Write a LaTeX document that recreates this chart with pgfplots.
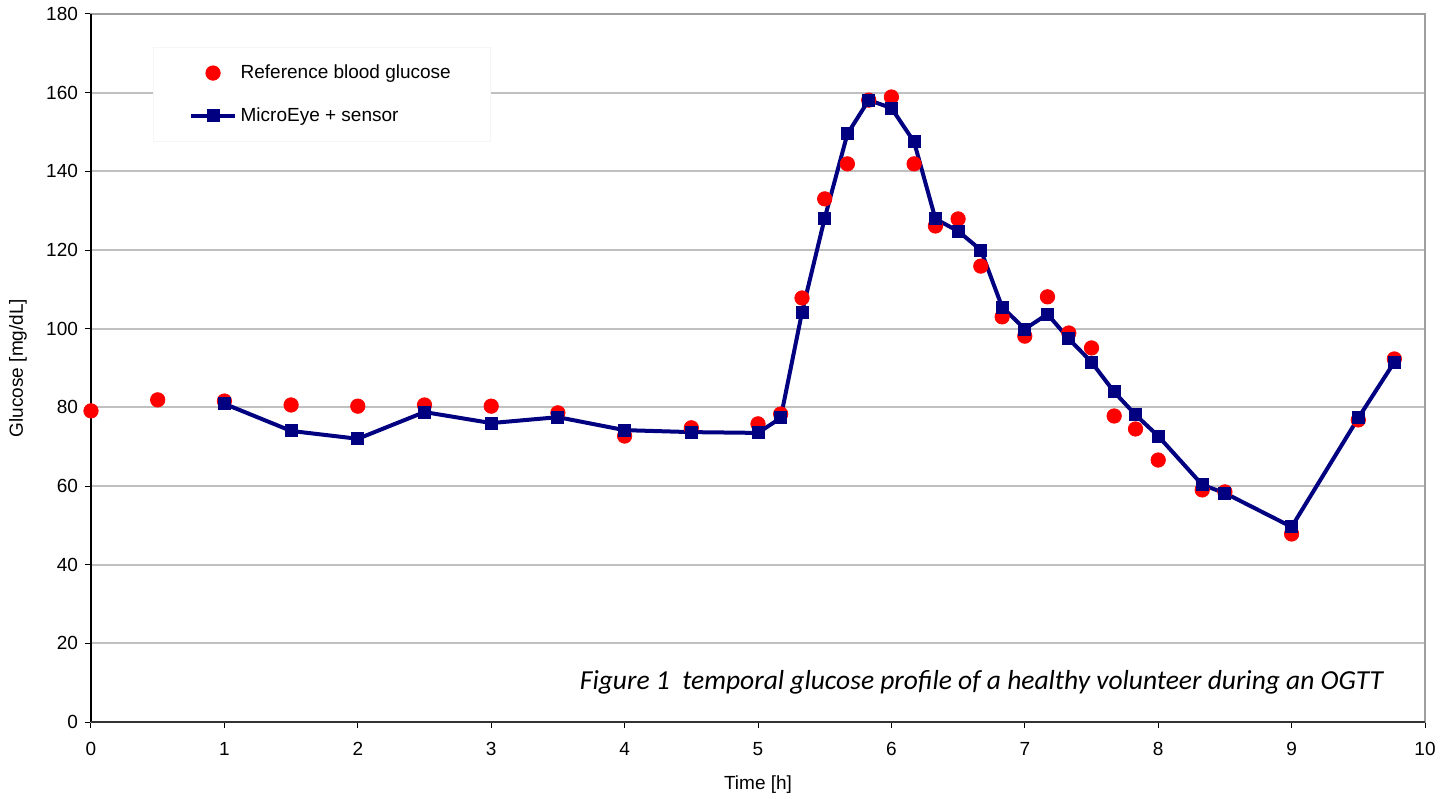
\documentclass[border=0pt]{standalone}
\usepackage{pgfplots}
\pgfplotsset{compat=1.18}
\usepackage{fontspec}
\setmainfont{Liberation Sans}
\newfontfamily\capfont{Carlito}
\definecolor{refred}{HTML}{FF0000}
\definecolor{navyline}{HTML}{000080}
\definecolor{gridgray}{HTML}{C0C0C0}

\begin{document}
\begin{tikzpicture}
  \begin{axis}[
    scale only axis,
    width=667pt,
    height=354pt,
    xmin=0, xmax=10,
    ymin=0, ymax=180,
    xtick={0,1,...,10},
    ytick={0,20,...,180},
    ymajorgrids,
    major grid style={gridgray,line width=0.9pt},
    axis line style={gray!75,line width=0.9pt},
    tick style={black,line width=0.5pt},
    tick align=outside,
    major tick length=3pt,
    xtick pos=bottom,
    ytick pos=left,
    tick label style={font=\fontsize{9.5}{11}\selectfont},
    xticklabel style={yshift=-3.5pt},
    label style={font=\fontsize{9.5}{11}\selectfont},
    /pgf/number format/assume math mode=true,
    xlabel={Time [h]},
    ylabel={Glucose [mg/dL]},
    xlabel style={at={(axis description cs:0.5,-0.089)},anchor=center},
    ylabel style={at={(axis description cs:-0.0547,0.5)},anchor=center},
    legend style={at={(axis description cs:0.0465,0.953)},anchor=north west,
      draw=gray!8,fill=white,inner xsep=18pt,inner ysep=6.5pt,row sep=9pt,
      font=\fontsize{9.5}{11}\selectfont},
    legend cell align=left,
    clip=false]

    % reference measurements (finger prick)
    \addplot[only marks,mark=*,mark size=3.6pt,refred,
      legend image code/.code={\draw plot[mark=*] coordinates {(0.38cm,0cm)};}]
      coordinates {
        (0,79.1) (0.5,81.9) (1,81.6) (1.5,80.6) (2,80.3) (2.5,80.6)
        (3,80.3) (3.5,78.6) (4,72.7) (4.5,74.8) (5,75.8) (5.17,78.3)
        (5.33,107.8) (5.5,133) (5.67,141.9) (5.83,158.1) (6,158.9)
        (6.17,141.9) (6.33,126.1) (6.5,127.9) (6.67,115.9) (6.83,103)
        (7,98.1) (7.17,108.1) (7.33,98.9) (7.5,95.1) (7.67,77.8)
        (7.83,74.5) (8,66.6) (8.33,59) (8.5,58.5) (9,47.8) (9.5,76.8)
        (9.77,92.3)};
    \addlegendentry{Reference blood glucose}

    % MicroEye readings
    \addplot[navyline,line width=2pt,mark=square*,mark size=3pt,
      mark options={solid,line width=0.5pt},
      legend image code/.code={\draw[mark repeat=2,mark phase=2]
        plot coordinates {(0cm,0cm) (0.38cm,0cm) (0.76cm,0cm)};}]
      coordinates {
        (1,80.9) (1.5,74) (2,72) (2.5,78.8) (3,76) (3.5,77.5) (4,74.2)
        (4.5,73.7) (5,73.5) (5.17,77.3) (5.33,104.2) (5.5,128.1)
        (5.67,149.5) (5.83,158.1) (6,156.1) (6.17,147.5) (6.33,127.9)
        (6.5,124.8) (6.67,120) (6.83,105.5) (7,99.9) (7.17,103.7)
        (7.33,97.4) (7.5,91.5) (7.67,83.9) (7.83,78.1) (8,72.7)
        (8.33,60.3) (8.5,58.2) (9,49.6) (9.5,77.3) (9.77,91.5)};
    \addlegendentry{MicroEye + sensor}

    \draw[black,line width=0.6pt] (rel axis cs:0,0) -- (rel axis cs:0,1);
    \draw[black!80,line width=0.9pt] (rel axis cs:0,0) -- (rel axis cs:1,0);
    \node[anchor=east,font=\capfont\itshape\fontsize{13.75}{16}\selectfont]
      at (axis cs:9.74,10.2) {Figure 1\ \ temporal glucose profile of a healthy volunteer during an OGTT};

    \coordinate (sw) at (rel axis cs:0,0);
    \coordinate (ne) at (rel axis cs:1,1);
  \end{axis}
  \pgfresetboundingbox
  \path (sw) ++(-45.5pt,-38pt) coordinate (bbl);
  \path (ne) ++(12pt,7pt) coordinate (bbr);
  \path[use as bounding box] (bbl) rectangle (bbr);
\end{tikzpicture}
\end{document}
